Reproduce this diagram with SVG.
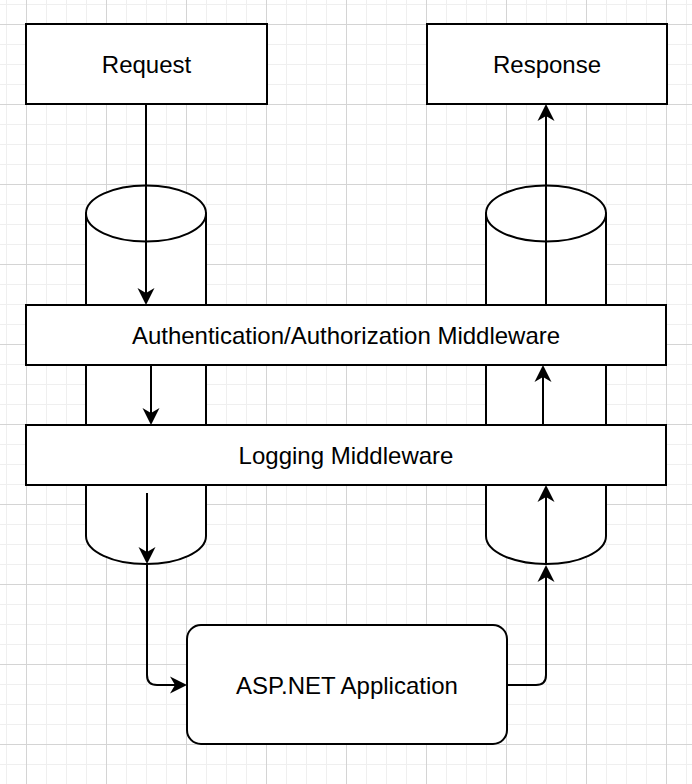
<svg xmlns="http://www.w3.org/2000/svg" width="692" height="784" viewBox="0 0 692 784">
  <defs>
    <pattern id="grid" patternUnits="userSpaceOnUse" x="26" y="24" width="80" height="80">
      <rect x="0" y="0" width="80" height="80" fill="#ffffff"/>
      <rect x="20" y="0" width="1" height="80" fill="#efefef"/>
      <rect x="40" y="0" width="1" height="80" fill="#efefef"/>
      <rect x="60" y="0" width="1" height="80" fill="#efefef"/>
      <rect x="0" y="20" width="80" height="1" fill="#efefef"/>
      <rect x="0" y="40" width="80" height="1" fill="#efefef"/>
      <rect x="0" y="60" width="80" height="1" fill="#efefef"/>
      <rect x="0" y="0" width="1" height="80" fill="#d4d4d4"/>
      <rect x="0" y="0" width="80" height="1" fill="#d4d4d4"/>
    </pattern>
    <marker id="arrow" markerUnits="userSpaceOnUse" viewBox="0 -9 17 18" markerWidth="17" markerHeight="18" refX="5" refY="0" orient="auto" overflow="visible">
      <path d="M17,0 L0,-8.5 L5,0 L0,8.5 Z" fill="#000000" stroke="none"/>
    </marker>
  </defs>
  <style>
    .shape { fill: #ffffff; stroke: #000000; stroke-width: 2; }
    .cyl { fill: #ffffff; stroke: #000000; stroke-width: 2; }
    .label { font-family: "Liberation Sans", Arial, Helvetica, sans-serif; font-size: 24px; fill: #000000; text-anchor: middle; }
    .edge { fill: none; stroke: #000000; stroke-width: 2; marker-end: url(#arrow); }
  </style>
  <rect x="0" y="0" width="692" height="784" fill="url(#grid)"/>

  <g id="cylinder-left">
    <path class="cyl" d="M86,213.5 L86,536 A60,28 0 0 0 206,536 L206,213.5 Z"/>
    <ellipse class="cyl" cx="146" cy="213.5" rx="60" ry="28"/>
  </g>
  <g id="cylinder-right">
    <path class="cyl" d="M486,213.5 L486,536 A60,28 0 0 0 606,536 L606,213.5 Z"/>
    <ellipse class="cyl" cx="546" cy="213.5" rx="60" ry="28"/>
  </g>

  <g id="request">
    <rect class="shape" x="26" y="24" width="241" height="80"/>
    <text class="label" x="146.5" y="73">Request</text>
  </g>
  <g id="response">
    <rect class="shape" x="427" y="24" width="240" height="80"/>
    <text class="label" x="547" y="73">Response</text>
  </g>
  <g id="auth">
    <rect class="shape" x="26" y="305" width="640" height="60"/>
    <text class="label" x="346" y="344">Authentication/Authorization Middleware</text>
  </g>
  <g id="logging">
    <rect class="shape" x="26" y="425" width="640" height="60"/>
    <text class="label" x="346" y="464">Logging Middleware</text>
  </g>
  <g id="aspnet">
    <rect class="shape" x="187" y="625" width="320" height="119" rx="14" ry="14"/>
    <text class="label" x="347" y="694">ASP.NET Application</text>
  </g>

  <g id="connectors">
    <path class="edge" d="M146,104 V293"/>
    <path class="edge" d="M151,365 V413"/>
    <path class="edge" d="M147,493 V552"/>
    <path class="edge" d="M147,564 V675 Q147,685 157,685 H175"/>
    <path class="edge" d="M507,685 H536 Q546,685 546,675 V577"/>
    <path class="edge" d="M546,565 V497"/>
    <path class="edge" d="M543,425 V377"/>
    <path class="edge" d="M546,305 V116"/>
  </g>
</svg>
